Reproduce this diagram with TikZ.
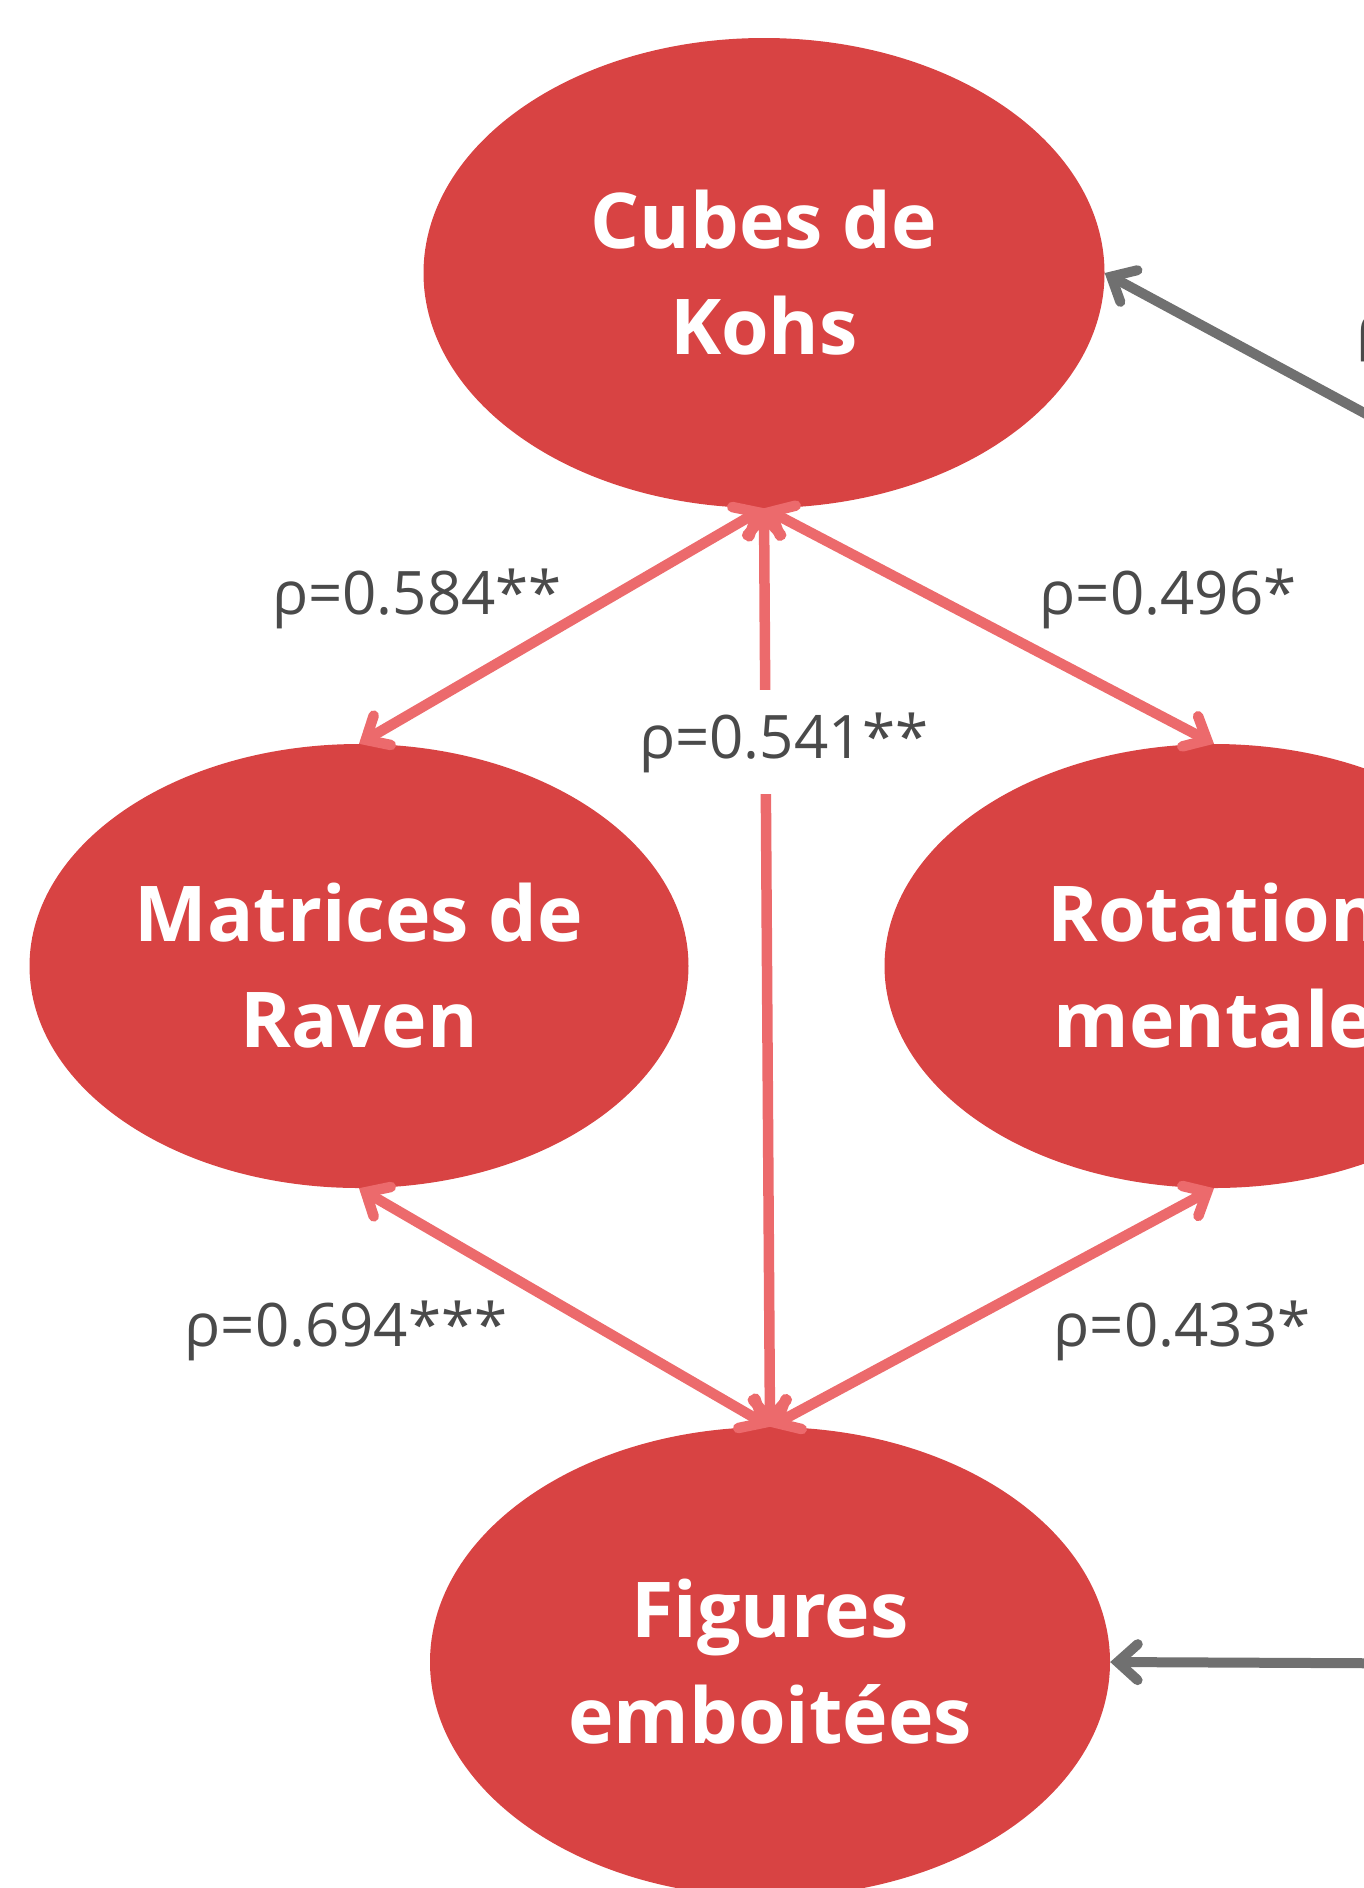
\documentclass[tikz,border=0pt]{standalone}
\usepackage{fontspec}
\setmainfont{Open Sans}
\usetikzlibrary{shapes.geometric,arrows.meta}
\definecolor{nodered}{HTML}{D84343}
\definecolor{linkpink}{HTML}{EC6A6C}
\definecolor{linkgray}{HTML}{707070}
\definecolor{lbltext}{HTML}{4A4A4A}
\tikzset{
  testnode/.style={ellipse, fill=nodered, inner sep=0pt, text=white, align=center,
    font=\bfseries\fontsize{77}{106}\selectfont},
  corr/.style={draw=linkpink, line width=10.5pt, line cap=round,
    {Straight Barb[length=19pt,width=34pt,line cap=round]}-{Straight Barb[length=19pt,width=34pt,line cap=round]}},
  extlink/.style={draw=linkgray, line width=10pt, line cap=round,
    -{Straight Barb[length=20pt,width=36pt,line cap=round]}},
  rholabel/.style={text=lbltext, anchor=base, inner sep=4pt,
    font=\fontsize{60}{72}\selectfont}
}
\begin{document}
\begin{tikzpicture}[x=1pt,y=-1pt]
\useasboundingbox (0,0) rectangle (1364,1888);
\node[testnode, minimum width=681pt, minimum height=470pt] (kohs) at (764,273) {Cubes de\\Kohs};
\node[testnode, minimum width=659pt, minimum height=444pt] (raven) at (359,966) {Matrices de\\Raven};
\node[testnode, minimum width=659pt, minimum height=444pt] (rot) at (1214,966) {Rotation\\mentale};
\node[testnode, minimum width=680pt, minimum height=470pt] (fig) at (770,1662) {Figures\\emboitées};

\coordinate (gA) at (1520,497);
\coordinate (gB) at (1520,1664);
\draw[extlink] (gA) -- (kohs.east);
\draw[extlink] (gB) -- (fig.east);
\node[rholabel, anchor=base west, inner sep=0pt] (gl) at (1356,347) {ρ};

\draw[corr] (raven.north) -- (kohs.south);
\draw[corr] (rot.north) -- (kohs.south);
\draw[corr] (kohs.south) -- (fig.north);
\draw[corr] (raven.south) -- (fig.north);
\draw[corr] (rot.south) -- (fig.north);

\node[rholabel] (l1) at (417,614) {ρ=0.584**};
\node[rholabel] (l2) at (1168,614) {ρ=0.496*};
\node[rholabel, fill=white, inner xsep=2pt, inner ysep=22pt] (l3) at (784,758) {ρ=0.541**};
\node[rholabel] (l4) at (346,1346) {ρ=0.694***};
\node[rholabel] (l5) at (1182,1346) {ρ=0.433*};
\end{tikzpicture}
\end{document}
